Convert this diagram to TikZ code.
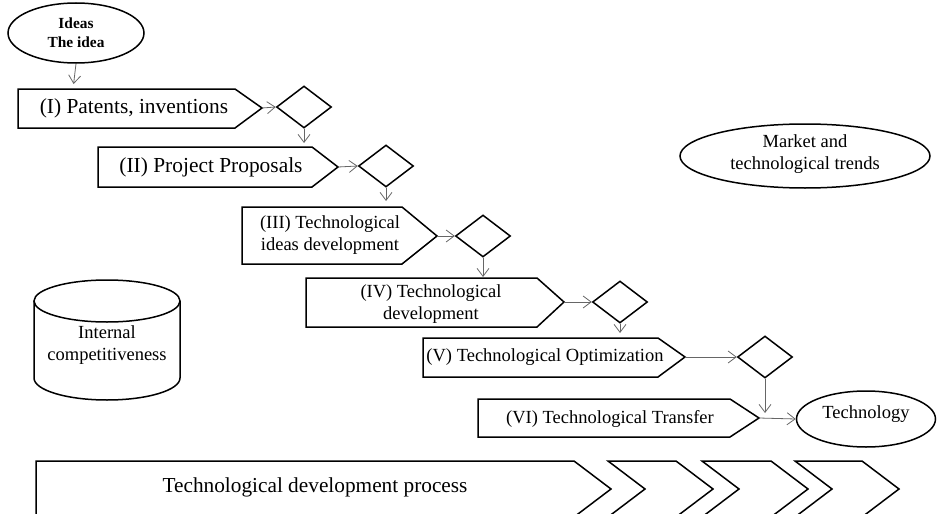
\documentclass[tikz,border=0pt]{standalone}
\usepackage{fontspec}
\setmainfont{Liberation Serif}
\usetikzlibrary{shapes.geometric,arrows.meta}
\begin{document}
\begin{tikzpicture}[x=1pt,y=-1pt,
  shp/.style={draw=black,line width=1.5pt,line join=miter},
  conn/.style={draw=black!60,line width=0.8pt,-{Straight Barb[length=8pt,width=12pt,line width=0.8pt]}},
  lbl/.style={font=\fontsize{18.5}{21.5}\selectfont,align=center,inner sep=0pt},
  lblbig/.style={font=\fontsize{21.4}{24}\selectfont,align=center,inner sep=0pt},
  dia/.style={diamond,draw=black,line width=1.5pt,minimum width=55pt,minimum height=42pt,inner sep=0pt},
  ell/.style={ellipse,draw=black,line width=1.5pt,inner sep=0pt},
]
\useasboundingbox (0,0) rectangle (938,514);
\clip (0,0) rectangle (938,514);

% Ideas
\node[ell,minimum width=136pt,minimum height=60pt] (ideas) at (76,33) {};
\node[font=\fontsize{15.4}{19}\selectfont\bfseries,align=center,inner sep=0pt] (ideastxt) at (76,33) {Ideas\\The idea};

% Boxes
\draw[shp] (18,89) -- (235,89) -- (262,108) -- (235,128) -- (18,128) -- cycle;
\coordinate (b1tip) at (262,108);
\coordinate (b1top) at (73,89);
\node[lblbig] (t1) at (134,108) {(I) Patents, inventions};

\draw[shp] (98,147) -- (312,147) -- (338,167) -- (312,187) -- (98,187) -- cycle;
\coordinate (b2tip) at (338,167);
\coordinate (b2top) at (304,147);
\node[lblbig] (t2) at (211,167) {(II) Project Proposals};

\draw[shp] (242,207) -- (402,207) -- (437,236) -- (402,264) -- (242,264) -- cycle;
\coordinate (b3tip) at (437,236);
\coordinate (b3top) at (386,207);
\node[lbl] (t3) at (330,235) {(III) Technological\\ideas development};

\draw[shp] (306,278) -- (537,278) -- (564,302) -- (537,327) -- (306,327) -- cycle;
\coordinate (b4tip) at (564,302);
\coordinate (b4top) at (483,278);
\node[lbl] (t4) at (431,304) {(IV) Technological\\development};

\draw[shp] (423,338) -- (658,338) -- (685,357) -- (658,377) -- (423,377) -- cycle;
\coordinate (b5tip) at (685,357);
\coordinate (b5top) at (620,338);
\node[lbl] (t5) at (545,357) {(V) Technological Optimization};

\draw[shp] (478,399) -- (730,399) -- (759,418) -- (730,437) -- (478,437) -- cycle;
\coordinate (b6tip) at (759,418);
\coordinate (b6in) at (765,413);
\node[lbl] (t6) at (610,419) {(VI) Technological Transfer};

% Diamonds
\node[dia] (d1) at (304,107) {};
\node[dia] (d2) at (386,166) {};
\node[dia] (d3) at (483,236) {};
\node[dia] (d4) at (620,302) {};
\node[dia] (d5) at (765,357) {};

% Technology
\node[ell,minimum width=139pt,minimum height=56pt] (tech) at (866,419) {};
\node[lbl] (techtxt) at (866,414) {Technology};

% Market
\node[ell,minimum width=250pt,minimum height=64pt] (market) at (805,156) {};
\node[lbl] (markettxt) at (805,154) {Market and\\technological trends};

% Internal competitiveness cylinder
\draw[shp] (34,301) -- (34,378) arc[start angle=180,end angle=360,x radius=73pt,y radius=22pt] -- (180,301);
\draw[shp] (107,301) ellipse[x radius=73pt,y radius=21pt];
\node[lbl] (inttxt) at (107,345) {Internal\\competitiveness};

% Process arrow with chevrons
\draw[shp] (36,461) -- (574,461) -- (611,489) -- (574,517) -- (36,517) -- cycle;
\draw[shp] (608,461) -- (676,461) -- (713,489) -- (676,517) -- (608,517) -- (645,489) -- cycle;
\draw[shp] (702,461) -- (771,461) -- (808,489) -- (771,517) -- (702,517) -- (739,489) -- cycle;
\draw[shp] (795,461) -- (862,461) -- (899,489) -- (862,517) -- (795,517) -- (832,489) -- cycle;
\node[font=\fontsize{21.3}{24}\selectfont,inner sep=0pt] (proc) at (315,487) {Technological development process};

% Connectors
\draw[conn,shorten >=5pt] (ideas.south) -- (b1top);
\draw[conn] (b1tip) -- (d1.west);
\draw[conn,shorten >=4pt] (d1.south) -- (b2top);
\draw[conn] (b2tip) -- (d2.west);
\draw[conn,shorten >=6pt] (d2.south) -- (b3top);
\draw[conn] (b3tip) -- (d3.west);
\draw[conn,shorten >=1pt] (d3.south) -- (b4top);
\draw[conn] (b4tip) -- (d4.west);
\draw[conn,shorten >=5pt] (d4.south) -- (b5top);
\draw[conn] (b5tip) -- (d5.west);
\draw[conn] (d5.south) -- (b6in);
\draw[conn] (b6tip) -- (tech.west);
\end{tikzpicture}
\end{document}
